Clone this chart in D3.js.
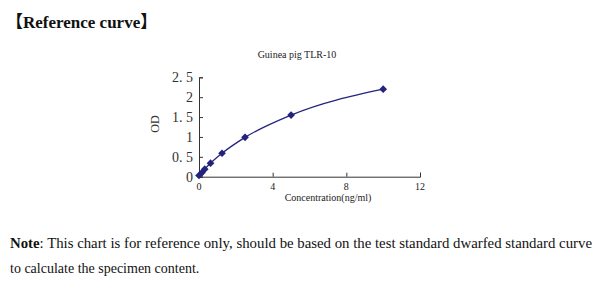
<!DOCTYPE html>
<html>
<head>
<meta charset="utf-8">
<script src="https://cdn.jsdelivr.net/npm/d3@7"></script>
<style>
  body { margin: 0; background: #fff; }
  text { font-family: "Liberation Serif", "DejaVu Serif", serif; }
</style>
</head>
<body>
<div id="chart"></div>
<script>
// standard curve data
const concentration = [0, 0.156, 0.312, 0.625, 1.25, 2.5, 5, 10];
const odValues = [0.03, 0.1, 0.19, 0.34, 0.59, 0.99, 1.55, 2.2];
const xTicks = [0, 4, 8, 12];
const yTicks = [0, 0.5, 1, 1.5, 2, 2.5];
const yTickLabels = ["0", "0. 5", "1", "1. 5", "2", "2. 5"];

const width = 600, height = 293;
const navy = "#23237e";

let svg = d3.select("#chart").append("svg")
  .attr("width", width)
  .attr("height", height);

/* header */
let head = svg.append("text")
  .attr("x", 6).attr("y", 28)
  .style("font-size", "17px")
  .style("font-weight", "bold")
  .attr("fill", "#111");
head.append("tspan").style("font-family", "'Noto Sans CJK SC'").text("【");
head.append("tspan").style("font-family", "'Liberation Serif'").text("Reference curve");
head.append("tspan").style("font-family", "'Noto Sans CJK SC'").text("】");

let x = d3.scaleLinear().domain([0, 12]).range([199, 420]);
let y = d3.scaleLinear().domain([0, 2.5]).range([176.7, 77.3]);

/* axes */
svg.append("g")
  .attr("transform", "translate(0," + y(0) + ")")
  .call(d3.axisTop(x).tickValues(xTicks).tickSize(4).tickFormat(""))
  .call(g => g.select(".domain").attr("stroke", "#333"))
  .call(g => g.selectAll(".tick line").attr("stroke", "#333"));

svg.selectAll(".xlab").data(xTicks).enter().append("text")
  .attr("class", "xlab")
  .attr("x", d => x(d))
  .attr("y", y(0) + 13)
  .attr("text-anchor", "middle")
  .style("font-size", "10px")
  .attr("fill", "#222")
  .text(d => d);

svg.append("g")
  .attr("transform", "translate(" + x(0) + ",0)")
  .call(d3.axisRight(y).tickValues(yTicks).tickSize(4).tickFormat(""))
  .call(g => g.select(".domain").attr("stroke", "#333"))
  .call(g => g.selectAll(".tick line").attr("stroke", "#333"));

svg.selectAll(".ylab").data(yTicks).enter().append("text")
  .attr("class", "ylab")
  .attr("x", x(0) - 6)
  .attr("y", d => y(d) + 5)
  .attr("text-anchor", "end")
  .style("font-size", "14px")
  .attr("fill", "#333")
  .text((d, i) => yTickLabels[i]);

/* titles */
svg.append("text")
  .attr("x", 297).attr("y", 58)
  .attr("text-anchor", "middle")
  .style("font-size", "10px")
  .attr("fill", "#222")
  .text("Guinea pig TLR-10");

svg.append("text")
  .attr("transform", "translate(159,124) rotate(-90)")
  .attr("text-anchor", "middle")
  .style("font-size", "12px")
  .attr("fill", "#333")
  .text("OD");

svg.append("text")
  .attr("x", 328).attr("y", 201)
  .attr("text-anchor", "middle")
  .style("font-size", "10px")
  .attr("fill", "#222")
  .text("Concentration(ng/ml)");

/* curve */
let line = d3.line()
  .x((d, i) => x(concentration[i]))
  .y(d => y(d))
  .curve(d3.curveMonotoneX);

svg.append("path")
  .datum(odValues)
  .attr("d", line)
  .attr("fill", "none")
  .attr("stroke", navy)
  .attr("stroke-width", 1.3);

svg.selectAll(".pt").data(odValues).enter().append("path")
  .attr("class", "pt")
  .attr("d", d3.symbol().type(d3.symbolDiamond2).size(38))
  .attr("transform", (d, i) => "translate(" + x(concentration[i]) + "," + y(d) + ")")
  .attr("fill", navy);

/* note */
let note = svg.append("text")
  .attr("x", 10).attr("y", 248)
  .style("font-size", "14px")
  .attr("fill", "#111")
  .attr("textLength", 582)
  .attr("lengthAdjust", "spacingAndGlyphs");
note.append("tspan").style("font-weight", "bold").text("Note");
note.append("tspan").text(": This chart is for reference only, should be based on the test standard dwarfed standard curve");

svg.append("text")
  .attr("x", 10).attr("y", 273)
  .style("font-size", "14px")
  .attr("fill", "#111")
  .text("to calculate the specimen content.");
</script>
</body>
</html>
